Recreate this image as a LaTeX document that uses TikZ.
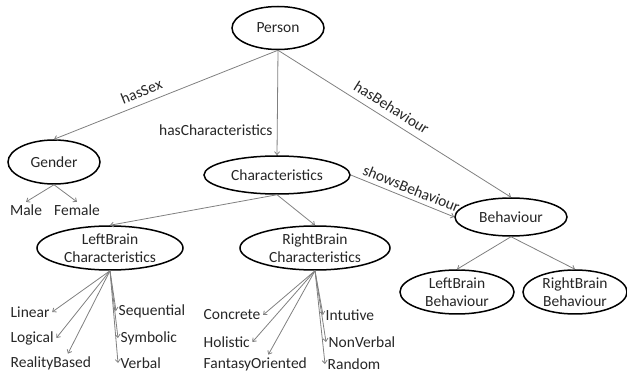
\documentclass[tikz,border=0pt]{standalone}
\usepackage{fontspec}
\setmainfont{Carlito}
\usetikzlibrary{shapes.geometric,arrows.meta}
\begin{document}
\begin{tikzpicture}[x=1pt,y=-1pt,
  every node/.style={text=black!85,font=\fontsize{15.5}{17.5}\selectfont},
  cls/.style={ellipse,draw=black,line width=1.5pt,inner sep=0pt,align=center},
  leaf/.style={inner sep=2.5pt},
  rel/.style={draw=black!50,line width=0.8pt,-{Straight Barb[length=3pt,width=5pt]}}]
\useasboundingbox (0,0) rectangle (627,374);
% classes
\node[cls,minimum width=92,minimum height=43] (person) at (278,28) {Person};
\node[cls,minimum width=92,minimum height=44] (gender) at (54,162) {Gender};
\node[cls,minimum width=146,minimum height=38] (chars) at (277,175) {Characteristics};
\node[cls,minimum width=112,minimum height=38] (behav) at (511,217) {Behaviour};
\node[cls,minimum width=146,minimum height=44] (lbc) at (110,248) {LeftBrain\\Characteristics};
\node[cls,minimum width=150,minimum height=44] (rbc) at (315,248) {RightBrain\\Characteristics};
\node[cls,minimum width=114,minimum height=44] (lbb) at (457,292) {LeftBrain\\Behaviour};
\node[cls,minimum width=104,minimum height=44] (rbb) at (575,292) {RightBrain\\Behaviour};
% relations
\draw[rel] (person.south) -- node[pos=0.59,above=3pt,sloped] {hasSex} (gender.north);
\draw[rel] (person.south) -- node[pos=0.76,left=1pt] {hasCharacteristics} (chars.north);
\draw[rel] (person.south) -- node[pos=0.46,above=3pt,sloped] {hasBehaviour} (behav.north);
\draw[rel] (chars.east) -- node[pos=0.55,above=1pt,sloped] {showsBehaviour} (behav.west);
\draw[rel] (chars.south) -- (lbc.north);
\draw[rel] (chars.south) -- (rbc.north);
\draw[rel] (behav.south) -- (lbb.north);
\draw[rel] (behav.south) -- (rbb.north);
% values
\node[leaf] (male) at (26,210) {Male};
\node[leaf] (female) at (77,210) {Female};
\draw[rel] (gender.south) -- (male.north);
\draw[rel] (gender.south) -- (female.north);
\node[leaf,anchor=west] (linear) at (8,312) {Linear};
\node[leaf,anchor=west] (logical) at (8,338) {Logical};
\node[leaf,anchor=west] (realbased) at (8,363) {RealityBased};
\node[leaf,anchor=west] (sequential) at (116,311) {Sequential};
\node[leaf,anchor=west] (symbolic) at (118,338) {Symbolic};
\node[leaf,anchor=west] (verbal) at (118,363) {Verbal};
\draw[rel] (lbc.south) -- (linear.east);
\draw[rel] (lbc.south) -- (logical.east);
\draw[rel] (lbc.south) -- ([xshift=17]realbased.north);
\draw[rel] (lbc.south) -- (sequential.west);
\draw[rel] (lbc.south) -- (symbolic.west);
\draw[rel] (lbc.south) -- (verbal.west);
\node[leaf,anchor=west] (concrete) at (201,315) {Concrete};
\node[leaf,anchor=west] (holistic) at (201,342) {Holistic};
\node[leaf,anchor=west] (fantasy) at (201,364) {FantasyOriented};
\node[leaf,anchor=west] (intutive) at (323,315) {Intutive};
\node[leaf,anchor=west] (nonverbal) at (326,342) {NonVerbal};
\node[leaf,anchor=west] (random) at (325,364) {Random};
\draw[rel] (rbc.south) -- (concrete.east);
\draw[rel] (rbc.south) -- (holistic.east);
\draw[rel] (rbc.south) -- ([xshift=13]fantasy.north);
\draw[rel] (rbc.south) -- (intutive.west);
\draw[rel] (rbc.south) -- (nonverbal.west);
\draw[rel] (rbc.south) -- (random.west);
\end{tikzpicture}
\end{document}
